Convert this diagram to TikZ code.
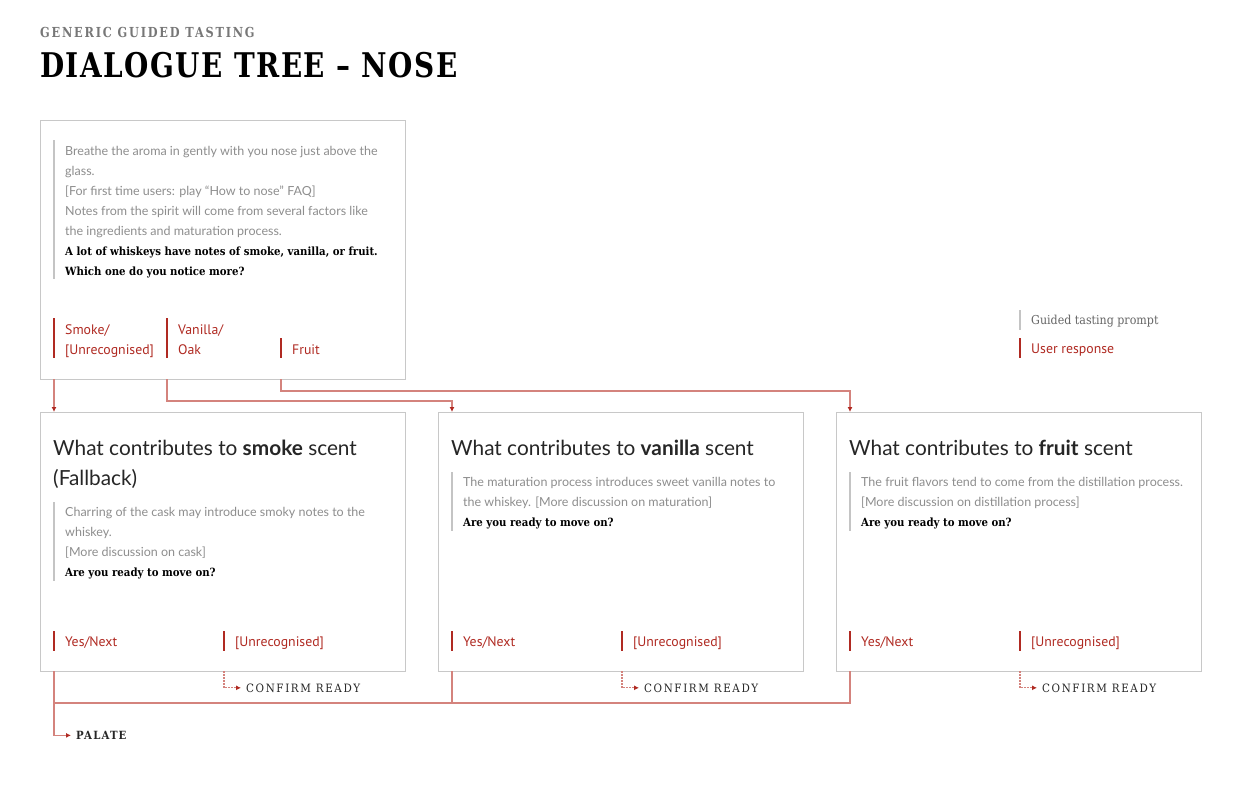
\documentclass[tikz,border=0pt]{standalone}
\usepackage{fontspec}
\setmainfont{Lato}
\newfontfamily\slab[FakeStretch=0.82]{DejaVu Serif}
\newfontfamily\slabw[FakeStretch=0.9]{DejaVu Serif}
\newfontfamily\cond{PT Sans}
\usetikzlibrary{arrows.meta}
\definecolor{boxgray}{HTML}{C8C8C8}
\definecolor{bargray}{HTML}{C4C4C4}
\definecolor{promptgray}{HTML}{8E8E8E}
\definecolor{respred}{HTML}{B02A22}
\definecolor{linkred}{HTML}{D4837D}
\definecolor{titlegray}{HTML}{777777}
\tikzset{
  box/.style={draw=boxgray, line width=1pt, minimum width=365pt, minimum height=259pt, anchor=north west, inner sep=0pt},
  prompt/.style={anchor=base west, inner sep=0pt, text=promptgray, font=\fontsize{12.5}{14}\selectfont},
  ask/.style={anchor=base west, inner sep=0pt, text=black, font=\slabw\bfseries\fontsize{11.3}{14}\selectfont},
  resp/.style={anchor=base west, inner sep=0pt, text=respred, font=\cond\fontsize{13.8}{14}\selectfont},
  head/.style={anchor=base west, inner sep=0pt, text=black!85, font=\fontsize{20.8}{24}\selectfont},
  gbar/.style={draw=bargray, line width=2pt},
  rbar/.style={draw=respred, line width=2pt},
  link/.style={draw=linkred, line width=1.4pt, -{Latex[length=5pt,width=5pt,color=respred]}},
  plain/.style={draw=linkred, line width=1.4pt},
  dots/.style={link, line width=1.2pt, dash pattern=on 1.5pt off 1.5pt},
  capsl/.style={anchor=base west, inner sep=0pt, text=black!85, font=\slabw\fontsize{11.5}{12}\selectfont\addfontfeature{LetterSpace=14}},
}
\begin{document}
\begin{tikzpicture}[x=1pt,y=-1pt]
\useasboundingbox[fill=white] (0,0) rectangle (1242,801);
% titles
\node[anchor=base west, inner sep=0pt, text=titlegray, font=\slab\bfseries\fontsize{13.8}{14}\selectfont\addfontfeature{LetterSpace=13}] (sub) at (40,37) {GENERIC GUIDED TASTING};
\node[anchor=base west, inner sep=0pt, text=black, font=\slab\bfseries\fontsize{34}{36}\selectfont\addfontfeature{LetterSpace=4.5}] (title) at (40,77) {DIALOGUE TREE – NOSE};

% boxes
\node[box] (b0) at (40,120) {};
\node[box] (b1) at (40,412) {};
\node[box] (b2) at (438,412) {};
\node[box] (b3) at (836,412) {};

% box 0
\draw[gbar] (54,140) -- (54,279);
\node[prompt] (p0a) at (65,155.5) {Breathe the aroma in gently with you nose just above the};
\node[prompt] (p0b) at (65,175.5) {glass.};
\node[prompt] (p0c) at (65,195.5) {[For first time users: play “How to nose” FAQ]};
\node[prompt] (p0d) at (65,215.5) {Notes from the spirit will come from several factors like};
\node[prompt] (p0e) at (65,235.5) {the ingredients and maturation process.};
\node[ask] (p0f) at (65,255.5) {A lot of whiskeys have notes of smoke, vanilla, or fruit.};
\node[ask] (p0g) at (65,275.5) {Which one do you notice more?};
\draw[rbar] (54,318) -- (54,358);
\draw[rbar] (167,318) -- (167,358);
\draw[rbar] (281,338) -- (281,358);
\node[resp] (r0a) at (65,334) {Smoke/};
\node[resp] (r0b) at (65,354) {[Unrecognised]};
\node[resp] (r0c) at (178,334) {Vanilla/};
\node[resp] (r0d) at (178,354) {Oak};
\node[resp] (r0e) at (292,354) {Fruit};

% legend
\draw[gbar] (1020,310) -- (1020,330);
\node[anchor=base west, inner sep=0pt, text=black!60, font=\slabw\fontsize{12.3}{14}\selectfont] (lg1) at (1031,324.5) {Guided tasting prompt};
\draw[rbar] (1020,338) -- (1020,358);
\node[resp] (lg2) at (1031,353) {User response};

% box 1
\node[head] (h1) at (53,455) {What contributes to \textbf{smoke} scent};
\node[head] (h1b) at (53,485) {(Fallback)};
\draw[gbar] (54,502) -- (54,581);
\node[prompt] (p1a) at (65,516.5) {Charring of the cask may introduce smoky notes to the};
\node[prompt] (p1b) at (65,536.5) {whiskey.};
\node[prompt] (p1c) at (65,556.5) {[More discussion on cask]};
\node[ask] (p1d) at (65,576.5) {Are you ready to move on?};
\draw[rbar] (54,631) -- (54,651);
\draw[rbar] (224,631) -- (224,651);
\node[resp] (r1a) at (65,646) {Yes/Next};
\node[resp] (r1b) at (235,646) {[Unrecognised]};

% box 2
\node[head] (h2) at (451,455) {What contributes to \textbf{vanilla} scent};
\draw[gbar] (452,472) -- (452,531);
\node[prompt] (p2a) at (463,486.5) {The maturation process introduces sweet vanilla notes to};
\node[prompt] (p2b) at (463,506.5) {the whiskey. [More discussion on maturation]};
\node[ask] (p2c) at (463,526.5) {Are you ready to move on?};
\draw[rbar] (452,631) -- (452,651);
\draw[rbar] (622,631) -- (622,651);
\node[resp] (r2a) at (463,646) {Yes/Next};
\node[resp] (r2b) at (633,646) {[Unrecognised]};

% box 3
\node[head] (h3) at (849,455) {What contributes to \textbf{fruit} scent};
\draw[gbar] (850,472) -- (850,531);
\node[prompt] (p3a) at (861,486.5) {The fruit flavors tend to come from the distillation process.};
\node[prompt] (p3b) at (861,506.5) {[More discussion on distillation process]};
\node[ask] (p3c) at (861,526.5) {Are you ready to move on?};
\draw[rbar] (850,631) -- (850,651);
\draw[rbar] (1020,631) -- (1020,651);
\node[resp] (r3a) at (861,646) {Yes/Next};
\node[resp] (r3b) at (1031,646) {[Unrecognised]};

% confirm ready
\node[capsl] (c1) at (246,692) {CONFIRM READY};
\node[capsl] (c2) at (644,692) {CONFIRM READY};
\node[capsl] (c3) at (1042,692) {CONFIRM READY};
\node[capsl, font=\slabw\bfseries\fontsize{11.3}{12}\selectfont\addfontfeature{LetterSpace=10}] (pal) at (76,739.5) {PALATE};

% coordinates
\coordinate (o0a) at (54,379);
\coordinate (o0b) at (167,379);
\coordinate (o0c) at (281,379);
\coordinate (i1) at (54,412);
\coordinate (i2) at (452,412);
\coordinate (i3) at (850,412);
\coordinate (o1y) at (54,671);
\coordinate (o2y) at (452,671);
\coordinate (o3y) at (850,671);
\coordinate (o1n) at (224,671);
\coordinate (o2n) at (622,671);
\coordinate (o3n) at (1020,671);

% connectors top
\draw[link] (o0a) -- (i1);
\draw[link] (o0b) |- (300,401) -| (i2);
\draw[link] (o0c) |- (600,391) -| (i3);

% confirm connectors
\draw[dots] (o1n) |- ([xshift=-5pt]c1.west);
\draw[dots] (o2n) |- ([xshift=-5pt]c2.west);
\draw[dots] (o3n) |- ([xshift=-5pt]c3.west);

% yes connectors
\draw[plain] (o3y) |- (54,703);
\draw[plain] (o2y) -- (452,703);
\draw[link] (o1y) |- ([xshift=-5pt]pal.west);
\end{tikzpicture}
\end{document}
